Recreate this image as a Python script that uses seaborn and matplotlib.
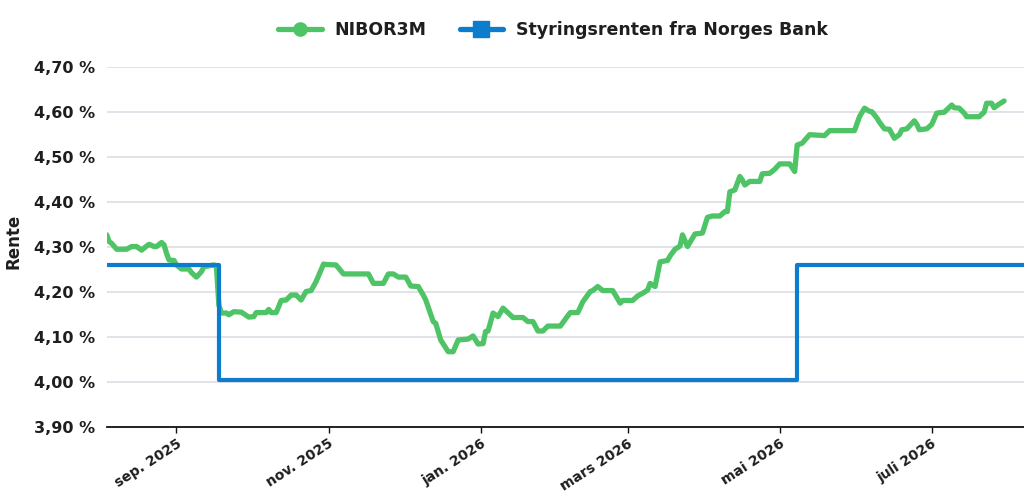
import pandas as pd
import seaborn as sns
import matplotlib.pyplot as plt
from matplotlib.lines import Line2D

# NIBOR 3M
nibor_dates = [
    "2025-08-04", "2025-08-05", "2025-08-06", "2025-08-08", "2025-08-12", "2025-08-14", "2025-08-16",
    "2025-08-18", "2025-08-20", "2025-08-21", "2025-08-23", "2025-08-24", "2025-08-26", "2025-08-27",
    "2025-08-28", "2025-08-29", "2025-08-31",
    "2025-09-01", "2025-09-03", "2025-09-06", "2025-09-07", "2025-09-09", "2025-09-11", "2025-09-12",
    "2025-09-16", "2025-09-17", "2025-09-18", "2025-09-19", "2025-09-21", "2025-09-22", "2025-09-24",
    "2025-09-27", "2025-09-30",
    "2025-10-02", "2025-10-03", "2025-10-07", "2025-10-08", "2025-10-09", "2025-10-11", "2025-10-13",
    "2025-10-15", "2025-10-17", "2025-10-19", "2025-10-21", "2025-10-23", "2025-10-25", "2025-10-27",
    "2025-10-29", "2025-10-30", "2025-10-31",
    "2025-11-04", "2025-11-07", "2025-11-17", "2025-11-19", "2025-11-23", "2025-11-25", "2025-11-27",
    "2025-11-29",
    "2025-12-02", "2025-12-04", "2025-12-07", "2025-12-09", "2025-12-10", "2025-12-13", "2025-12-14",
    "2025-12-16", "2025-12-19", "2025-12-21", "2025-12-23", "2025-12-27", "2025-12-29", "2025-12-31",
    "2026-01-02", "2026-01-03", "2026-01-04", "2026-01-06", "2026-01-08", "2026-01-10", "2026-01-14",
    "2026-01-18", "2026-01-20", "2026-01-22", "2026-01-24", "2026-01-26", "2026-01-28",
    "2026-02-02", "2026-02-05", "2026-02-06", "2026-02-09", "2026-02-11", "2026-02-14", "2026-02-15",
    "2026-02-17", "2026-02-19", "2026-02-23", "2026-02-26", "2026-02-27",
    "2026-03-03", "2026-03-05", "2026-03-07", "2026-03-09", "2026-03-10", "2026-03-12", "2026-03-14",
    "2026-03-17", "2026-03-18", "2026-03-20", "2026-03-22", "2026-03-23", "2026-03-25", "2026-03-28",
    "2026-03-31",
    "2026-04-02", "2026-04-04", "2026-04-07", "2026-04-09", "2026-04-10", "2026-04-11", "2026-04-13",
    "2026-04-15", "2026-04-16", "2026-04-17", "2026-04-19", "2026-04-23", "2026-04-24", "2026-04-27",
    "2026-04-29",
    "2026-05-01", "2026-05-05", "2026-05-07", "2026-05-08", "2026-05-10", "2026-05-13", "2026-05-19",
    "2026-05-21", "2026-05-31",
    "2026-06-02", "2026-06-04", "2026-06-06", "2026-06-07", "2026-06-09", "2026-06-10", "2026-06-12",
    "2026-06-14", "2026-06-16", "2026-06-18", "2026-06-19", "2026-06-21", "2026-06-24", "2026-06-25",
    "2026-06-26", "2026-06-29",
    "2026-07-01", "2026-07-03", "2026-07-06", "2026-07-09", "2026-07-10", "2026-07-12", "2026-07-14",
    "2026-07-15", "2026-07-20", "2026-07-22", "2026-07-23", "2026-07-25", "2026-07-26", "2026-07-28",
    "2026-07-30",
]
nibor_values = [
    4.327, 4.312, 4.308, 4.295, 4.295, 4.301, 4.301, 4.293, 4.302, 4.306, 4.301, 4.301, 4.310, 4.305,
    4.286, 4.271, 4.270,
    4.260, 4.251, 4.251, 4.243, 4.233, 4.245, 4.256, 4.260, 4.258, 4.171, 4.153, 4.153, 4.149, 4.156,
    4.155, 4.144,
    4.145, 4.154, 4.154, 4.161, 4.154, 4.154, 4.181, 4.182, 4.193, 4.193, 4.182, 4.201, 4.203, 4.223,
    4.249, 4.262, 4.261,
    4.260, 4.240, 4.240, 4.219, 4.219, 4.240, 4.240, 4.233,
    4.233, 4.213, 4.212, 4.193, 4.182, 4.134, 4.130, 4.093, 4.067, 4.067, 4.093, 4.095, 4.102, 4.084,
    4.085, 4.112, 4.113, 4.153, 4.145, 4.164, 4.143, 4.143, 4.134, 4.134, 4.113, 4.113, 4.124,
    4.124, 4.147, 4.154, 4.154, 4.178, 4.201, 4.203, 4.212, 4.203, 4.203, 4.175, 4.181,
    4.181, 4.191, 4.197, 4.204, 4.219, 4.212, 4.267, 4.270, 4.280, 4.295, 4.302, 4.327, 4.301, 4.329,
    4.331,
    4.366, 4.369, 4.369, 4.379, 4.379, 4.423, 4.427, 4.457, 4.449, 4.438, 4.446, 4.446, 4.463, 4.464,
    4.473,
    4.485, 4.485, 4.468, 4.527, 4.531, 4.550, 4.548, 4.559, 4.559,
    4.590, 4.609, 4.602, 4.601, 4.587, 4.578, 4.563, 4.562, 4.542, 4.550, 4.561, 4.563, 4.581, 4.573,
    4.561, 4.563,
    4.573, 4.598, 4.600, 4.616, 4.610, 4.609, 4.598, 4.590, 4.590, 4.600, 4.620, 4.620, 4.610, 4.618,
    4.625,
]

# Norges Bank policy rate (step changes)
policy_dates = ["2025-08-04", "2025-09-18", "2026-05-08", "2026-08-12"]
policy_values = [4.26, 4.005, 4.26, 4.26]

tick_dates = ["2025-09-01", "2025-11-01", "2026-01-01", "2026-03-01", "2026-05-01", "2026-07-01"]
tick_labels = ["sep. 2025", "nov. 2025", "jan. 2026", "mars 2026", "mai 2026", "juli 2026"]
y_ticks = [3.9, 4.0, 4.1, 4.2, 4.3, 4.4, 4.5, 4.6, 4.7]

GREEN = "#4fc466"
BLUE = "#0b7dcc"
TEXT = "#1e1e1e"

nibor = pd.DataFrame({"dato": pd.to_datetime(nibor_dates), "rente": nibor_values})
policy = pd.DataFrame({"dato": pd.to_datetime(policy_dates), "rente": policy_values})

sns.set_theme(style="white")
plt.rcParams["font.family"] = ["DejaVu Sans"]
plt.rcParams["font.weight"] = "bold"

fig = plt.figure(figsize=(10.24, 4.93), dpi=100)
ax = fig.add_axes([0.1048, 0.1345, 0.8952, 0.729])

sns.lineplot(data=nibor, x="dato", y="rente", ax=ax, color=GREEN, linewidth=3.8,
             solid_joinstyle="round", solid_capstyle="round", zorder=3)
sns.lineplot(data=policy, x="dato", y="rente", ax=ax, color=BLUE, linewidth=3.0,
             drawstyle="steps-post", zorder=4)

ax.set_xlim(pd.Timestamp("2025-08-04 06:00"), pd.Timestamp("2026-08-07"))
ax.set_ylim(3.9, 4.7)
ax.set_yticks(y_ticks)
ax.set_yticklabels([f"{v:.2f} %".replace(".", ",") for v in y_ticks],
                   fontsize=11.5, fontweight="bold", color=TEXT)
ax.set_xticks(pd.to_datetime(tick_dates))
ax.set_xticklabels(tick_labels, fontsize=10, fontweight="bold", color=TEXT,
                   rotation=33, ha="right", rotation_mode="anchor")

ax.grid(axis="y", color="#dadae2", linewidth=1.1)
ax.grid(axis="x", visible=False)
for side in ["left", "right", "top"]:
    ax.spines[side].set_visible(False)
ax.spines["bottom"].set_color("#111111")
ax.spines["bottom"].set_linewidth(1.3)
ax.tick_params(axis="x", bottom=True, length=4, width=1.0, color="#111111", pad=3)
ax.tick_params(axis="y", left=False, length=0, pad=8.5)
ax.set_xlabel("")
ax.set_ylabel("")

fig.text(14 / 1024, 1 - 241 / 493, "Rente", rotation=90, ha="center", va="center",
         fontsize=12, fontweight="bold", color=TEXT)

handles = [
    Line2D([], [], color=GREEN, linewidth=3.8, marker="o", markersize=9.5),
    Line2D([], [], color=BLUE, linewidth=3.8, marker="s", markersize=12),
]
fig.legend(handles, ["NIBOR3M", "Styringsrenten fra Norges Bank"], loc="center",
           bbox_to_anchor=(0.540, 0.939), ncol=2, frameon=False, handlelength=2.5,
           handletextpad=0.75, columnspacing=1.9,
           prop={"size": 12.5, "weight": "bold"}, labelcolor=TEXT)

fig.savefig("out.png", dpi=100, facecolor="white")
